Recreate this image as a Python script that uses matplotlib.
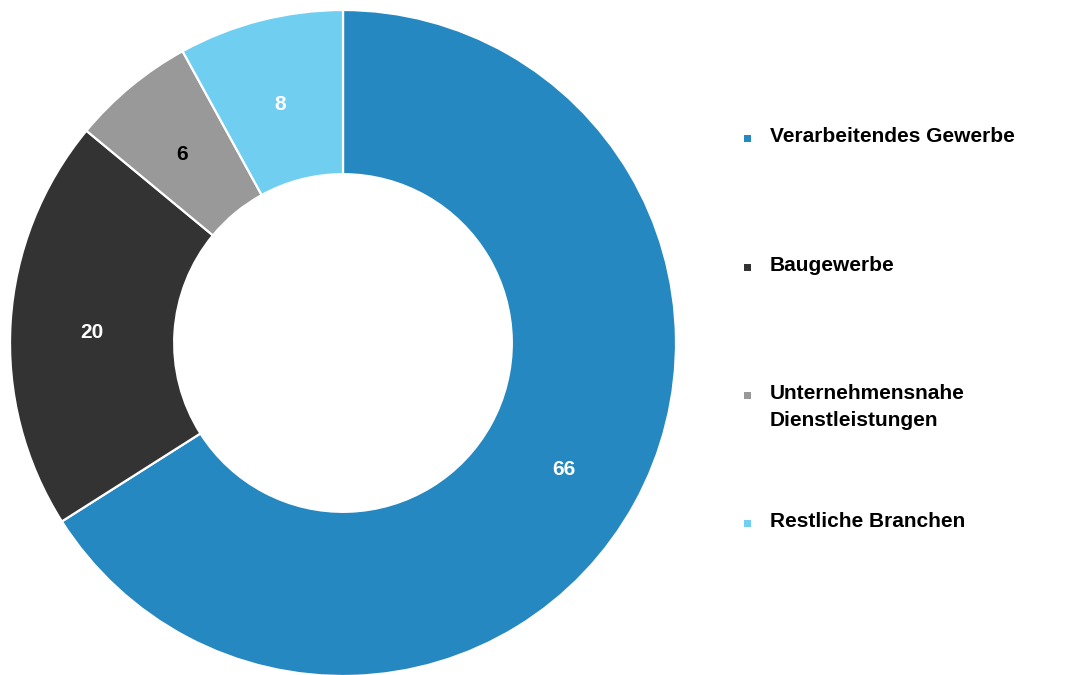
import matplotlib
matplotlib.use("Agg")
import matplotlib.pyplot as plt
from matplotlib.transforms import offset_copy

categories = ["Verarbeitendes Gewerbe", "Baugewerbe",
              "Unternehmensnahe\nDienstleistungen", "Restliche Branchen"]
values = [66, 20, 6, 8]
colors = ["#2688C0", "#333333", "#999999", "#70CFF1"]
label_colors = ["white", "white", "black", "white"]

plt.rcParams["font.family"] = ["Liberation Sans", "DejaVu Sans"]

W, H = 1067, 675
fig = plt.figure(figsize=(W / 100, H / 100), dpi=100)

# donut axes: centre (343, 343) px, radius 333 px
cx, cy, r = 343, 343, 333
ax = fig.add_axes([(cx - r) / W, (H - cy - r) / H, 2 * r / W, 2 * r / H])
wedges, _, autotexts = ax.pie(
    values, colors=colors, startangle=90, counterclock=False,
    radius=1.0, autopct=lambda p: f"{p:.0f}", pctdistance=0.757,
    wedgeprops=dict(width=0.493, edgecolor="white", linewidth=1.6),
    textprops=dict(fontsize=15, fontweight="bold"))
for t, c in zip(autotexts, label_colors):
    t.set_color(c)
    t.set_transform(offset_copy(t.get_transform(), fig=fig, y=-4, units="points"))
ax.set_xlim(-1, 1)
ax.set_ylim(-1, 1)
ax.axis("off")

# legend drawn as marker + text rows
legend_x_marker = 748 / W
legend_x_text = 770 / W
row_tops = [138, 267, 395, 523]
for lab, col, yc in zip(categories, colors, row_tops):
    fy = (H - yc) / H
    fig.patches.append(plt.Rectangle((legend_x_marker - 3.5 / W, fy - 3.5 / H),
                                     7 / W, 7 / H, transform=fig.transFigure,
                                     facecolor=col, edgecolor="none"))
    fig.text(legend_x_text, fy + 11 / H, lab, fontsize=15, fontweight="bold",
             va="top", ha="left", color="black", linespacing=1.55)

fig.savefig("out.png", dpi=100)
